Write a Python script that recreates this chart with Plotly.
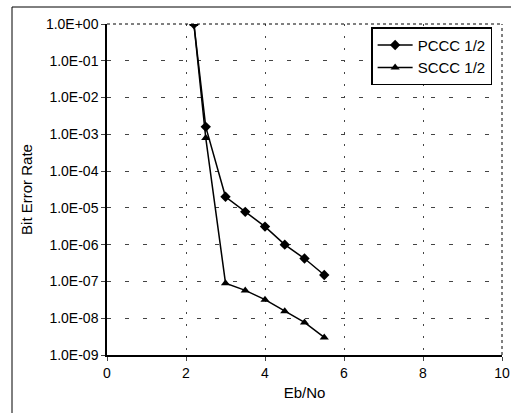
import plotly.graph_objects as go

eb_no = [2.2, 2.5, 3.0, 3.5, 4.0, 4.5, 5.0, 5.5]
pccc_ber = [1.0, 1.6e-3, 2.0e-5, 7.8e-6, 3.1e-6, 1.0e-6, 4.2e-7, 1.5e-7]
sccc_ber = [1.0, 8.0e-4, 9.0e-8, 5.7e-8, 3.2e-8, 1.55e-8, 7.7e-9, 3.0e-9]

y_tickvals = [1e0, 1e-1, 1e-2, 1e-3, 1e-4, 1e-5, 1e-6, 1e-7, 1e-8, 1e-9]
y_ticktext = ["1.0E+00", "1.0E-01", "1.0E-02", "1.0E-03", "1.0E-04",
              "1.0E-05", "1.0E-06", "1.0E-07", "1.0E-08", "1.0E-09"]
x_tickvals = [0, 2, 4, 6, 8, 10]

font = "Liberation Sans, Arial, sans-serif"

fig = go.Figure()
fig.add_trace(go.Scatter(x=eb_no, y=pccc_ber, name="PCCC 1/2", mode="lines+markers",
                         line=dict(color="black", width=1.5),
                         marker=dict(symbol="diamond", size=8, color="black")))
fig.add_trace(go.Scatter(x=eb_no, y=sccc_ber, name="SCCC 1/2", mode="lines+markers",
                         line=dict(color="black", width=1.5),
                         marker=dict(symbol="triangle-up", size=8, color="black")))

fig.update_layout(
    width=511, height=413,
    margin=dict(l=107, r=9, t=24, b=58, autoexpand=False),
    paper_bgcolor="white", plot_bgcolor="white",
    font=dict(family=font, size=14, color="black"),
    showlegend=True,
    legend=dict(x=0.975, y=0.99, xanchor="right", yanchor="top",
                bordercolor="black", borderwidth=1.5, bgcolor="white",
                font=dict(size=15), itemwidth=35, tracegroupgap=6),
)
fig.update_xaxes(range=[0, 10], tickvals=x_tickvals, ticks="outside", ticklen=4,
                 tickfont=dict(size=14),
                 showline=True, linecolor="black", linewidth=1.5, mirror=False,
                 showgrid=True, gridcolor="#444", griddash="2px,10px", gridwidth=1,
                 zeroline=False, automargin=False,
                 title=dict(text="Eb/No", font=dict(size=15), standoff=8))
fig.update_yaxes(type="log", range=[-9, 0], tickvals=y_tickvals, ticktext=y_ticktext,
                 ticks="outside", ticklen=4, tickfont=dict(size=14),
                 showline=True, linecolor="black", linewidth=1.5,
                 showgrid=True, gridcolor="#444", griddash="4px,14px", gridwidth=1,
                 zeroline=False, automargin=False,
                 title=dict(text="Bit Error Rate", font=dict(size=15), standoff=10))

# dotted top and right borders of the plot area
fig.add_shape(type="line", xref="paper", yref="paper", x0=0, x1=1, y0=1, y1=1,
              line=dict(color="black", width=1, dash="dot"))
fig.add_shape(type="line", xref="paper", yref="paper", x0=1, x1=1, y0=0, y1=1,
              line=dict(color="black", width=1, dash="dot"))
# outer chart frame
fig.add_shape(type="rect", xref="paper", yref="paper",
              x0=-95 / 395, x1=1.05, y0=-1.2, y1=1 + 17 / 331,
              line=dict(color="black", width=1))

fig.write_html("out.html", config={"displayModeBar": False},
               post_script="document.body.style.margin='0';")
